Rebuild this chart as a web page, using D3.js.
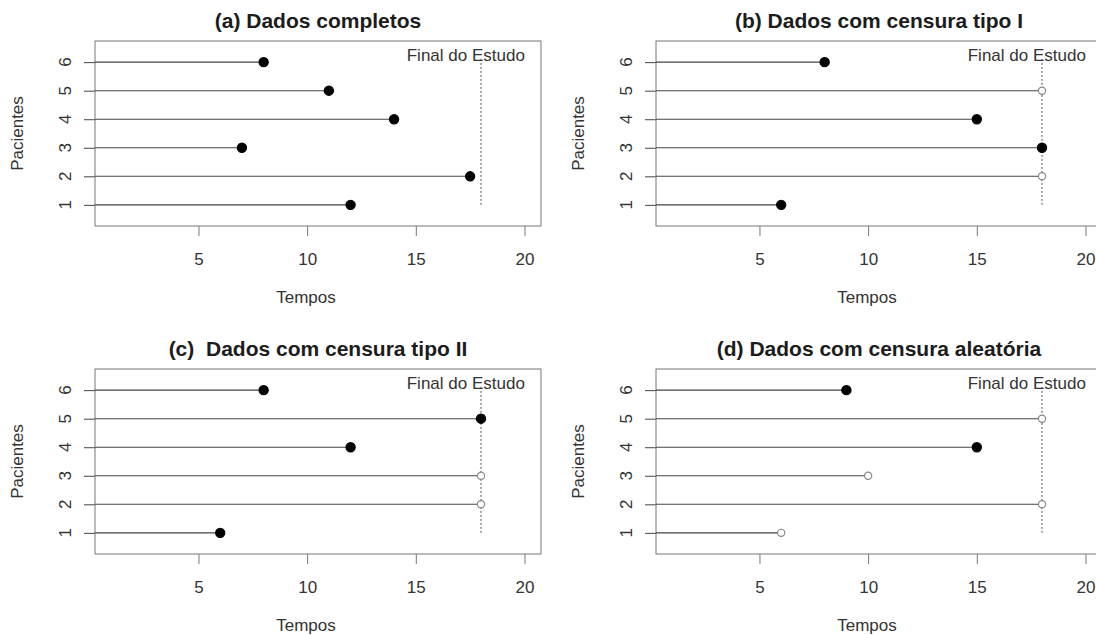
<!DOCTYPE html>
<html>
<head>
<meta charset="utf-8">
<script src="https://cdn.jsdelivr.net/npm/d3@7"></script>
<style>
  body { margin: 0; background: #fff; }
  svg { font-family: "Liberation Sans", Arial, sans-serif; }
  .title { white-space: pre; }
</style>
</head>
<body>
<svg id="chart" width="1096" height="635"></svg>
<script>
// data
var patients = [1, 2, 3, 4, 5, 6];
var xTicks = [5, 10, 15, 20];
var studyEnd = 18;
var endLabel = 'Final do Estudo';
var xLabel = 'Tempos';
var yLabel = 'Pacientes';

var titles = [
    '(a) Dados completos',
    '(b) Dados com censura tipo I',
    '(c)  Dados com censura tipo II',
    '(d) Dados com censura aleatória'
];

// times for patients 1..6, status 1 = event (filled), 0 = censored (open)
var timesA = [12, 17.5, 7, 14, 11, 8];
var statusA = [1, 1, 1, 1, 1, 1];
var timesB = [6, 18, 18, 15, 18, 8];
var statusB = [1, 0, 1, 1, 0, 1];
var timesC = [6, 18, 18, 12, 18, 8];
var statusC = [1, 0, 0, 1, 1, 1];
var timesD = [6, 18, 10, 15, 18, 9];
var statusD = [0, 0, 0, 1, 0, 1];

var panels = [
    {title: titles[0], times: timesA, status: statusA, col: 0, row: 0},
    {title: titles[1], times: timesB, status: statusB, col: 1, row: 0},
    {title: titles[2], times: timesC, status: statusC, col: 0, row: 1},
    {title: titles[3], times: timesD, status: statusD, col: 1, row: 1}
];

// layout
var margin = {top: 41, left: 95};
var plotW = 446, plotH = 185;
var colStep = 561, rowStep = 328;

var svg = d3.select('#chart');

// R style limits: c(1,20) and c(0.5,6.5) with 4% padding
var x = d3.scaleLinear().domain([0.24, 20.76]).range([0, plotW]);
var y = d3.scaleLinear().domain([0.26, 6.74]).range([plotH, 0]);

panels.forEach(function(p){
    var g = svg.append('g')
        .attr('transform', 'translate(' + (margin.left + p.col * colStep) + ',' + (margin.top + p.row * rowStep) + ')');

    var rows = patients.map(function(d, i){
        return {id: d, time: p.times[i], event: p.status[i]};
    });

    // title
    g.append('text')
        .attr('class', 'title')
        .attr('x', plotW / 2)
        .attr('y', -13)
        .attr('text-anchor', 'middle')
        .style('font-size', '21px')
        .style('font-weight', 'bold')
        .style('fill', '#1c1c1c')
        .text(p.title);

    // x axis
    var xAxis = g.append('g')
        .attr('transform', 'translate(0,' + plotH + ')')
        .call(d3.axisBottom(x).tickValues(xTicks).tickSize(10).tickPadding(17));
    xAxis.select('.domain').remove();
    xAxis.selectAll('line').attr('stroke', '#777');
    xAxis.selectAll('text')
        .style('font-size', '17px')
        .style('font-family', '"Liberation Sans", Arial, sans-serif')
        .style('fill', '#333');

    // y axis, labels turned like R
    var yAxis = g.append('g')
        .call(d3.axisLeft(y).tickValues(patients).tickSize(11).tickFormat(''));
    yAxis.select('.domain').remove();
    yAxis.selectAll('line').attr('stroke', '#444');
    g.selectAll('.ylab')
        .data(patients)
        .enter().append('text')
        .attr('class', 'ylab')
        .attr('transform', function(d){ return 'translate(-24,' + y(d) + ') rotate(-90)'; })
        .attr('text-anchor', 'middle')
        .style('font-size', '17px')
        .style('fill', '#333')
        .text(function(d){ return d; });

    // axis titles
    g.append('text')
        .attr('x', plotW / 2 - 12)
        .attr('y', plotH + 77)
        .attr('text-anchor', 'middle')
        .style('font-size', '17px')
        .style('fill', '#333')
        .text(xLabel);
    g.append('text')
        .attr('transform', 'translate(-72,' + (plotH / 2) + ') rotate(-90)')
        .attr('text-anchor', 'middle')
        .style('font-size', '17px')
        .style('fill', '#333')
        .text(yLabel);

    // box
    g.append('rect')
        .attr('width', plotW)
        .attr('height', plotH)
        .attr('fill', 'none')
        .attr('stroke', '#777');

    // follow-up segments
    g.selectAll('.seg')
        .data(rows)
        .enter().append('line')
        .attr('class', 'seg')
        .attr('x1', x(0.24))
        .attr('x2', function(d){ return x(d.time); })
        .attr('y1', function(d){ return y(d.id); })
        .attr('y2', function(d){ return y(d.id); })
        .attr('stroke', '#444')
        .attr('stroke-width', 1.1);

    // end of study
    g.append('line')
        .attr('x1', x(studyEnd)).attr('x2', x(studyEnd))
        .attr('y1', y(1)).attr('y2', y(6.12))
        .attr('stroke', '#555')
        .attr('stroke-dasharray', '2,2');
    g.append('text')
        .attr('x', x(17.3))
        .attr('y', y(6) - 1)
        .attr('text-anchor', 'middle')
        .style('font-size', '17px')
        .style('fill', '#333')
        .text(endLabel);

    // points
    g.selectAll('.pt')
        .data(rows)
        .enter().append('circle')
        .attr('class', 'pt')
        .attr('cx', function(d){ return x(d.time); })
        .attr('cy', function(d){ return y(d.id); })
        .attr('r', function(d){ return d.event ? 4.6 : 3.6; })
        .attr('fill', function(d){ return d.event ? '#000' : '#fff'; })
        .attr('stroke', function(d){ return d.event ? '#000' : '#888'; })
        .attr('stroke-width', 1.2);
});
</script>
</body>
</html>
